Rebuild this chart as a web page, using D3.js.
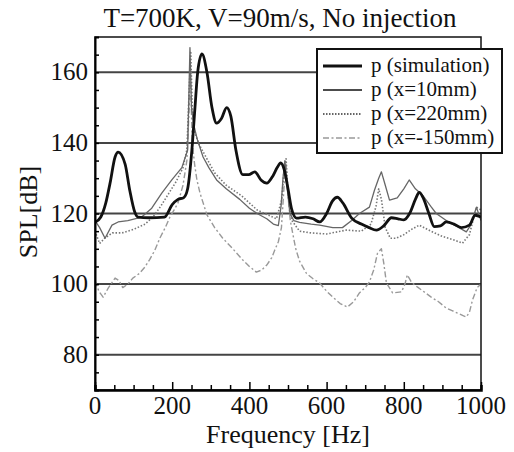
<!DOCTYPE html>
<html>
<head>
<meta charset="utf-8">
<script src="https://cdn.jsdelivr.net/npm/d3@7"></script>
<style>
  body { margin: 0; background: #fff; }
  text { font-family: "Liberation Serif", "Times New Roman", serif; fill: #111; }
</style>
</head>
<body>
<div id="chart"></div>
<script>
// data: frequency [Hz] and SPL [dB] per series
const simFreq = [0, 15, 28, 39, 52, 60, 78, 90, 103, 111, 140, 180, 200, 215, 230, 240, 251, 259, 266, 277, 290, 303, 315, 328, 341, 352, 365, 383, 398, 414, 430, 445, 460, 472, 481, 490, 500, 510, 522, 545, 565, 582, 600, 615, 628, 642, 665, 690, 710, 729, 748, 768, 785, 800, 815, 830, 840, 850, 865, 879, 895, 910, 930, 949, 970, 985, 1000];
const simSPL = [117.5, 119, 123, 128.6, 136, 137.4, 134, 126.6, 120.4, 119, 118.8, 119, 122.5, 124, 124.5, 127, 138, 150, 160, 165.2, 160, 150, 145.6, 147, 150, 147.5, 138, 131, 131, 131.8, 129.5, 128.6, 130.5, 133, 134.3, 132.5, 127, 121, 118.7, 119, 118.5, 117.6, 120, 123.5, 124.6, 123, 118.7, 117, 116, 115.3, 116.5, 118.8, 118.5, 118.2, 120, 124, 126, 124.5, 120, 116.3, 116.5, 117.6, 117, 116, 116.7, 119.5, 119];

const x10Freq = [0, 12, 26, 44, 60, 85, 121, 147, 173, 199, 225, 240, 246, 250, 256, 265, 280, 295, 315, 340, 375, 400, 420, 445, 462, 475, 482, 487, 492, 497, 505, 515, 530, 560, 582, 616, 641, 665, 685, 711, 724, 735, 742, 752, 763, 783, 800, 814, 830, 850, 870, 884, 910, 935, 962, 975, 988, 1000];
const x10SPL = [118, 116, 113, 116.7, 117.6, 118, 119, 121.5, 125.8, 129.5, 133, 138, 167, 150, 145, 141, 136, 133, 129.5, 127, 124, 121.5, 120, 118.5, 117, 116.6, 122, 130, 135, 128, 120, 118, 117.5, 117, 116.7, 116, 116, 118, 120, 121.8, 126.6, 130, 131.8, 128, 123.8, 124.4, 127, 129.5, 127, 125, 122, 120, 118, 116.5, 114.8, 117, 121.8, 118];

const x220Freq = [0, 12, 25, 45, 70, 100, 130, 150, 170, 190, 210, 228, 238, 244, 248, 252, 258, 270, 290, 310, 340, 380, 420, 450, 470, 484, 490, 495, 500, 510, 530, 560, 600, 651, 690, 715, 728, 735, 742, 752, 765, 780, 800, 820, 840, 870, 900, 930, 952, 970, 988, 1000];
const x220SPL = [115, 111.5, 113, 114.5, 114.5, 115.5, 117, 119, 122, 125.5, 129, 133, 138, 155, 166, 150, 143, 139.5, 135.5, 131.5, 128, 125, 121, 119.5, 118.5, 124, 133, 135.5, 126, 118, 115, 114.5, 114.2, 115.3, 115, 117, 122, 127, 124, 116, 113, 113, 114, 115.5, 116.7, 115, 113.5, 112.5, 111.6, 114, 121.8, 121];

const xm150Freq = [0, 10, 21, 35, 52, 62, 72, 85, 98, 115, 129, 142, 155, 168, 182, 194, 205, 215, 228, 238, 244, 247, 252, 258, 264, 272, 290, 310, 331, 357, 383, 400, 418, 432, 445, 458, 466, 475, 483, 490, 495, 500, 506, 512, 520, 530, 548, 565, 582, 600, 616, 635, 654, 670, 685, 700, 711, 722, 732, 742, 748, 755, 771, 794, 803, 809, 820, 835, 850, 871, 890, 910, 925, 939, 955, 962, 970, 978, 990, 1000];
const xm150SPL = [101, 98, 96.3, 99, 101.7, 101, 99, 100, 101.7, 103, 104.8, 107, 109.6, 113, 116, 119, 121, 123, 128, 135, 150, 160, 140, 134, 129.5, 125.8, 119.6, 116, 113, 110, 106.8, 105, 103.4, 104, 105.4, 107.5, 109.7, 112, 116, 128, 134, 125, 118, 114.5, 110, 106.5, 103, 101.5, 100.3, 98, 96.3, 94.5, 93.5, 95, 97.5, 99, 100.6, 104, 108.8, 110, 106, 100.3, 97.5, 97.8, 100, 102.6, 100.5, 99.2, 98, 96.3, 95, 93.2, 92.5, 91.8, 91, 90.7, 92, 95.5, 99, 100];

const seriesNames = ["p (simulation)", "p (x=10mm)", "p (x=220mm)", "p (x=-150mm)"];
const gridValues = [80, 100, 120, 140, 160];
const xTickValues = [0, 200, 400, 600, 800, 1000];

const W = 514, H = 452;
const pLeft = 95, pRight = 481, pTop = 37, pBottom = 390;

const svg = d3.select("#chart").append("svg")
  .attr("width", W).attr("height", H);

const x = d3.scaleLinear().domain([0, 1000]).range([pLeft, pRight]);
const y = d3.scaleLinear().domain([70, 170]).range([pBottom, pTop]);

svg.append("defs").append("clipPath").attr("id", "clip")
  .append("rect").attr("x", pLeft).attr("y", pTop)
  .attr("width", pRight - pLeft).attr("height", pBottom - pTop);

// horizontal grid lines
svg.append("g").selectAll("line").data(gridValues).join("line")
  .attr("x1", pLeft).attr("x2", pRight)
  .attr("y1", d => y(d)).attr("y2", d => y(d))
  .attr("stroke", "#444").attr("stroke-width", 2);

// series styles
const styles = [
  { color: "#111", width: 2.8, dash: null, curve: d3.curveMonotoneX },
  { color: "#666", width: 1.3, dash: null, curve: d3.curveLinear },
  { color: "#777", width: 1.6, dash: "1.5,1.8", curve: d3.curveLinear },
  { color: "#999", width: 1.4, dash: "6,2.5,2,2.5", curve: d3.curveLinear }
];
const seriesData = [
  d3.zip(simFreq, simSPL),
  d3.zip(x10Freq, x10SPL),
  d3.zip(x220Freq, x220SPL),
  d3.zip(xm150Freq, xm150SPL)
];

const plot = svg.append("g").attr("clip-path", "url(#clip)");
// draw the thick simulation line last so it sits on top
[3, 2, 1, 0].forEach(i => {
  const s = styles[i];
  const line = d3.line().x(d => x(d[0])).y(d => y(d[1])).curve(s.curve);
  plot.append("path")
    .datum(seriesData[i])
    .attr("d", line)
    .attr("fill", "none")
    .attr("stroke", s.color)
    .attr("stroke-width", s.width)
    .attr("stroke-dasharray", s.dash)
    .attr("stroke-linejoin", "round");
});

// frame
svg.append("rect")
  .attr("x", pLeft).attr("y", pTop)
  .attr("width", pRight - pLeft).attr("height", pBottom - pTop)
  .attr("fill", "none").attr("stroke", "#111").attr("stroke-width", 1.5);

// x axis: ticks inside, every 50 Hz
const xAxis = svg.append("g").attr("transform", `translate(0,${pBottom})`)
  .call(d3.axisTop(x).tickValues(d3.range(0, 1001, 50)).tickSize(5).tickFormat(""));
xAxis.select(".domain").attr("stroke-width", 2.5);
xAxis.selectAll(".tick line").attr("stroke-width", 1.5)
  .attr("y2", d => d % 200 === 0 ? -8 : -5);

svg.append("g").selectAll("text").data(xTickValues).join("text")
  .attr("x", d => x(d)).attr("y", 414)
  .attr("text-anchor", "middle")
  .style("font-size", "25px")
  .text(d => d);

// y axis: ticks inside, every 5 dB
const yAxis = svg.append("g").attr("transform", `translate(${pLeft},0)`)
  .call(d3.axisRight(y).tickValues(d3.range(75, 170, 5)).tickSize(4).tickFormat(""));
yAxis.select(".domain").attr("stroke-width", 2);
yAxis.selectAll(".tick line").attr("stroke-width", 1.5);

svg.append("g").selectAll("text").data(gridValues).join("text")
  .attr("x", 88).attr("y", d => y(d) + 8)
  .attr("text-anchor", "end")
  .style("font-size", "25px")
  .text(d => d);

// titles
svg.append("text")
  .attr("x", 280).attr("y", 27)
  .attr("text-anchor", "middle")
  .style("font-size", "27px")
  .text("T=700K, V=90m/s, No injection");

svg.append("text")
  .attr("x", 288).attr("y", 443)
  .attr("text-anchor", "middle")
  .style("font-size", "26px")
  .text("Frequency [Hz]");

svg.append("text")
  .attr("transform", "translate(37,212) rotate(-90)")
  .attr("text-anchor", "middle")
  .style("font-size", "26px")
  .text("SPL[dB]");

// legend
const lg = svg.append("g");
lg.append("rect")
  .attr("x", 317).attr("y", 49).attr("width", 185).attr("height", 104)
  .attr("fill", "#fff").attr("stroke", "#111").attr("stroke-width", 2);
const legendStyles = [
  { color: "#111", width: 3, dash: null },
  { color: "#111", width: 1.6, dash: null },
  { color: "#333", width: 1.5, dash: "1.5,1.5" },
  { color: "#999", width: 1.4, dash: "6,2.5,2,2.5" }
];
seriesNames.forEach((name, i) => {
  const yy = 66 + i * 24;
  lg.append("line")
    .attr("x1", 323).attr("x2", 362)
    .attr("y1", yy).attr("y2", yy)
    .attr("stroke", legendStyles[i].color)
    .attr("stroke-width", legendStyles[i].width)
    .attr("stroke-dasharray", legendStyles[i].dash);
  lg.append("text")
    .attr("x", 371).attr("y", yy + 6)
    .style("font-size", "21px")
    .text(name);
});
</script>
</body>
</html>
